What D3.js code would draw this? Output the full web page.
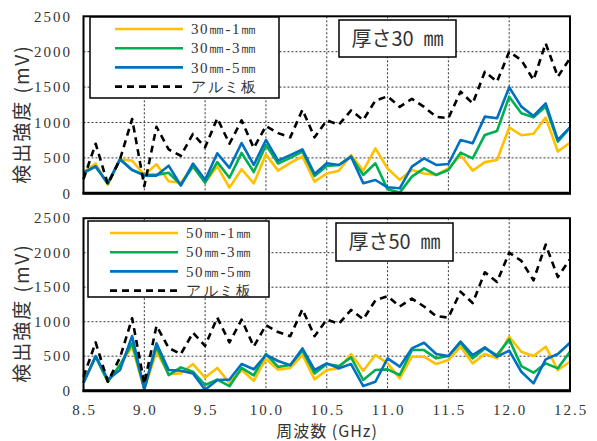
<!DOCTYPE html>
<html>
<head>
  <meta charset="utf-8">
  <script src="https://cdnjs.cloudflare.com/ajax/libs/d3/7.8.5/d3.min.js"></script>
  <style>
    body { margin: 0; background: #fff; }
    .tick-label { font-family: "Times New Roman", "Liberation Serif", serif; font-size: 15px; letter-spacing: 2px; fill: #333; }
    .grid line { stroke: #333; stroke-width: 1; stroke-dasharray: 2,2; }
    .legend-text { font-family: "Times New Roman", "Liberation Serif", serif; font-size: 15px; letter-spacing: 1.5px; fill: #333; }
    .title { font-family: "Noto Sans CJK JP", sans-serif; fill: #333; }
  </style>
</head>
<body>
<svg width="597" height="441"></svg>
<script>
// frequency (GHz)
var freq = [8.5, 8.6, 8.7, 8.8, 8.9, 9.0, 9.1, 9.2, 9.3, 9.4,
            9.5, 9.6, 9.7, 9.8, 9.9, 10.0, 10.1, 10.2, 10.3, 10.4,
            10.5, 10.6, 10.7, 10.8, 10.9, 11.0, 11.1, 11.2, 11.3, 11.4,
            11.5, 11.6, 11.7, 11.8, 11.9, 12.0, 12.1, 12.2, 12.3, 12.4, 12.5];

// アルミ板 (reference, same in both panels)
var alu = [200, 700, 130, 480, 1050, 100, 940, 620, 530, 840,
           650, 1060, 700, 1030, 640, 950, 850, 790, 1180, 790,
           1030, 970, 1170, 1035, 1310, 1370, 1220, 1335, 1220, 1080,
           1060, 1435, 1270, 1717, 1576, 2000, 1882, 1600, 2118, 1647, 1906];

// 厚さ30mm
var t30_1 = [300, 420, 120, 480, 460, 260, 410, 170, 150, 380,
             160, 380, 80, 340, 140, 550, 320, 430, 520, 165,
             280, 320, 540, 320, 635, 350, 190, 330, 280, 260,
             350, 540, 320, 440, 470, 930, 820, 840, 1070, 590, 715];
var t30_3 = [290, 380, 140, 480, 330, 260, 260, 290, 120, 380,
             150, 440, 220, 570, 300, 680, 420, 500, 590, 245,
             386, 400, 518, 259, 424, 56, 10, 235, 353, 259,
             330, 574, 494, 824, 880, 1365, 1130, 1073, 1224, 730, 927];
var t30_5 = [290, 380, 140, 480, 330, 250, 250, 390, 110, 420,
             190, 565, 360, 710, 400, 753, 460, 540, 621, 273,
             424, 400, 518, 141, 188, 85, 71, 376, 494, 400,
             414, 753, 706, 1083, 1059, 1497, 1224, 1092, 1271, 753, 932];

// 厚さ50mm
var t50_1 = [130, 493, 130, 372, 638, 19, 565, 242, 251, 386,
             190, 330, 110, 300, 145, 460, 305, 330, 517, 164,
             300, 324, 531, 290, 517, 396, 179, 493, 493, 386,
             444, 638, 396, 531, 469, 782, 565, 502, 638, 300, 420];
var t50_3 = [116, 493, 130, 372, 686, 34, 638, 227, 338, 275,
             82, 160, 65, 330, 222, 532, 345, 372, 580, 251,
             386, 357, 483, 155, 300, 309, 227, 589, 589, 469,
             502, 695, 469, 613, 517, 744, 357, 261, 396, 324, 565];
var t50_5 = [116, 502, 164, 300, 792, 19, 686, 300, 290, 251,
             15, 155, 160, 387, 310, 517, 430, 370, 613, 300,
             396, 324, 386, 68, 130, 469, 348, 613, 695, 531,
             502, 710, 517, 628, 493, 580, 275, 106, 454, 531, 695];

var yTicks = [0, 500, 1000, 1500, 2000, 2500];
var xTicks = [8.5, 9.0, 9.5, 10.0, 10.5, 11.0, 11.5, 12.0, 12.5];
var xTickLabels = ["8.5", "9.0", "9.5", "10.0", "10.5", "11.0", "11.5", "12.0", "12.5"];

var colors = ["#FFC000", "#00B050", "#0070C0", "#000"];

var svg = d3.select("svg");

var x = d3.scaleLinear().domain([8.5, 12.5]).range([83.5, 570]);

var line = function(yScale) {
  return d3.line()
      .x(function(d, i) { return x(freq[i]); })
      .y(function(d) { return yScale(d); });
};

function drawPanel(p) {
  var y = d3.scaleLinear().domain([0, 2500]).range([p.bottom, p.top]);
  var g = svg.append("g");

  // grid
  var grid = g.append("g").attr("class", "grid");
  grid.selectAll("line.h")
      .data(yTicks.slice(1, -1))
    .enter().append("line")
      .attr("x1", x(8.5)).attr("x2", x(12.5))
      .attr("y1", function(d) { return y(d); })
      .attr("y2", function(d) { return y(d); });
  grid.selectAll("line.v")
      .data(xTicks.slice(1, -1))
    .enter().append("line")
      .attr("x1", function(d) { return x(d); })
      .attr("x2", function(d) { return x(d); })
      .attr("y1", p.top).attr("y2", p.bottom);

  // y tick labels
  g.selectAll("text.ytick")
      .data(yTicks)
    .enter().append("text")
      .attr("class", "tick-label")
      .attr("x", 72)
      .attr("y", function(d) { return y(d); })
      .attr("dy", "0.35em")
      .attr("text-anchor", "end")
      .text(function(d) { return d; });

  // series
  var series = [p.s1, p.s3, p.s5, alu];
  g.selectAll("path.series")
      .data(series)
    .enter().append("path")
      .attr("fill", "none")
      .attr("stroke", function(d, i) { return colors[i]; })
      .attr("stroke-width", 2.6)
      .attr("stroke-linejoin", "round")
      .attr("stroke-dasharray", function(d, i) { return i === 3 ? "7,5" : null; })
      .attr("d", line(y));

  // frame
  g.append("rect")
      .attr("x", x(8.5)).attr("y", p.top)
      .attr("width", x(12.5) - x(8.5)).attr("height", p.bottom - p.top)
      .attr("fill", "none").attr("stroke", "#000").attr("stroke-width", 2);
  g.append("line")
      .attr("x1", x(8.5) - 1).attr("x2", x(12.5) + 1)
      .attr("y1", p.bottom).attr("y2", p.bottom)
      .attr("stroke", "#000").attr("stroke-width", 3);

  // legend
  var lg = g.append("g").attr("transform", "translate(" + p.legend[0] + "," + p.legend[1] + ")");
  lg.append("rect")
      .attr("width", p.legend[2]).attr("height", p.legend[3])
      .attr("fill", "#fff").attr("stroke", "#000").attr("stroke-width", 1.5);
  var items = lg.selectAll("g.item")
      .data(p.names)
    .enter().append("g")
      .attr("transform", function(d, i) { return "translate(0," + (12 + i * 19.2) + ")"; });
  items.append("line")
      .attr("x1", p.legend[4]).attr("x2", p.legend[4] + 68)
      .attr("stroke", function(d, i) { return colors[i]; })
      .attr("stroke-width", 2.6)
      .attr("stroke-dasharray", function(d, i) { return i === 3 ? "7,5" : null; });
  items.append("text")
      .attr("class", "legend-text")
      .attr("x", p.legend[4] + 76)
      .attr("dy", "0.35em")
      .text(function(d) { return d; });

  // thickness label
  var ab = g.append("g").attr("transform", "translate(" + p.box[0] + "," + p.box[1] + ")");
  ab.append("rect")
      .attr("width", p.box[2]).attr("height", p.box[3])
      .attr("fill", "#fff").attr("stroke", "#000").attr("stroke-width", 1.5);
  ab.append("text")
      .attr("class", "title")
      .attr("x", p.box[2] / 2).attr("y", p.box[3] / 2)
      .attr("dy", "0.35em")
      .attr("text-anchor", "middle")
      .style("font-size", "20px")
      .text(p.label);

  // y title
  svg.append("text")
      .attr("class", "title")
      .attr("transform", "translate(29," + p.titleY + ") rotate(-90)")
      .attr("text-anchor", "middle")
      .style("font-size", "19px")
      .style("letter-spacing", "2px")
      .text("検出強度 (mV)");
}

drawPanel({
  top: 16.3, bottom: 193.3,
  s1: t30_1, s3: t30_3, s5: t30_5,
  names: ["30㎜-1㎜", "30㎜-3㎜", "30㎜-5㎜", "アルミ板"],
  legend: [90, 17, 189, 81, 25],
  box: [339, 20, 117, 37],
  label: "厚さ30\u2002㎜",
  titleY: 114
});

drawPanel({
  top: 218.2, bottom: 390.7,
  s1: t50_1, s3: t50_3, s5: t50_5,
  names: ["50㎜-1㎜", "50㎜-3㎜", "50㎜-5㎜", "アルミ板"],
  legend: [88, 221, 181, 76, 22],
  box: [336, 223, 117, 38],
  label: "厚さ50\u2002㎜",
  titleY: 313
});

// x tick labels
svg.selectAll("text.xtick")
    .data(xTicks)
  .enter().append("text")
    .attr("class", "tick-label")
    .attr("x", function(d) { return x(d) + 1; })
    .attr("y", 415)
    .attr("text-anchor", "middle")
    .text(function(d, i) { return xTickLabels[i]; });

svg.append("text")
    .attr("class", "title")
    .attr("x", 327).attr("y", 437)
    .attr("text-anchor", "middle")
    .style("font-size", "16px")
    .style("letter-spacing", "1px")
    .text("周波数 (GHz)");
</script>
</body>
</html>
